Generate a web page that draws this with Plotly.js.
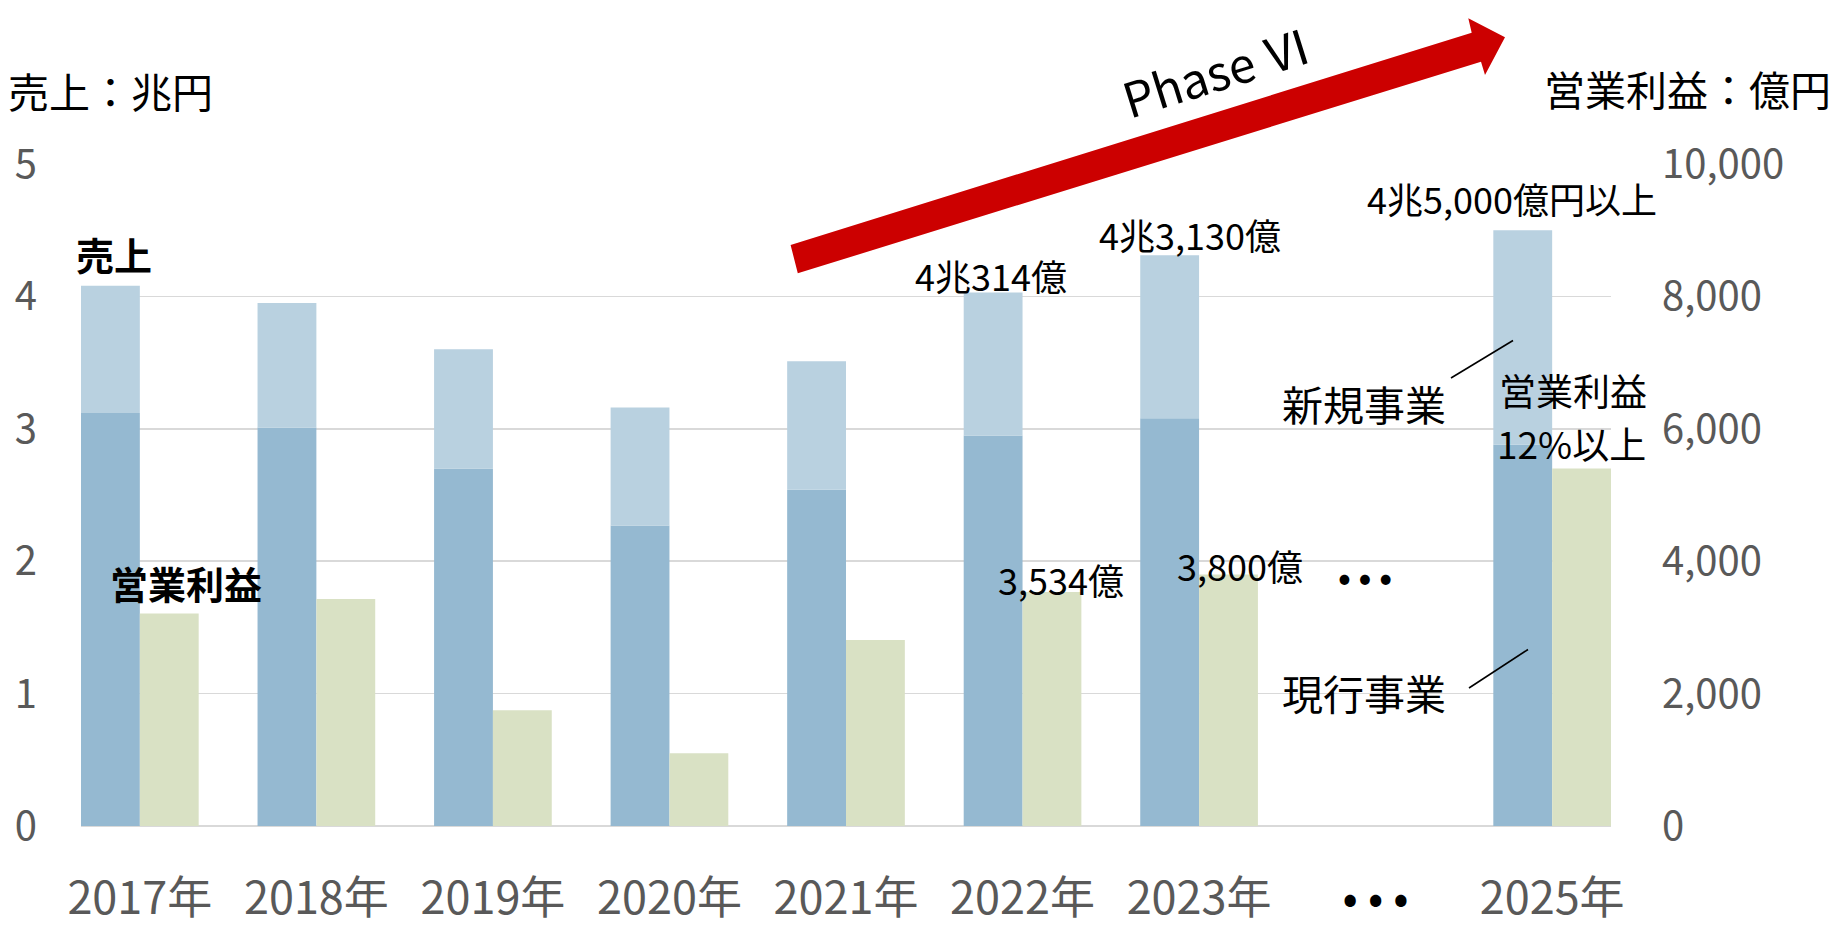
<!DOCTYPE html>
<html>
<head>
<meta charset="utf-8">
<script src="https://cdn.plot.ly/plotly-3.0.1.min.js"></script>
<style>
  html, body { margin: 0; padding: 0; background: #fff; }
  #chart { width: 1835px; height: 930px; }
</style>
</head>
<body>
<div id="chart"></div>
<script>
// ---- data ----
const categories = ['2017年', '2018年', '2019年', '2020年', '2021年', '2022年', '2023年', '• • •', '2025年'];
const currentBiz = [3.12, 3.01, 2.70, 2.27, 2.54, 2.95, 3.08, null, 2.88];   // 現行事業 (兆円)
const newBiz     = [0.96, 0.94, 0.90, 0.89, 0.97, 1.08, 1.23, null, 1.62];   // 新規事業 (兆円)
const opProfit   = [3210, 3430, 1750, 1100, 2810, 3534, 3800, null, 5400];   // 営業利益 (億円)
const salesTickVals = [0, 1, 2, 3, 4, 5];
const profitTickVals = [0, 2000, 4000, 6000, 8000, 10000];
const profitTickText = ['0', '2,000', '4,000', '6,000', '8,000', '10,000'];

// ---- layout geometry ----
const W = 1835, H = 930;
const L = 81, R = 224, T = 164, B = 104;
const PW = W - L - R, PH = H - T - B;
function P(px, py) { return { x: (px - L) / PW, y: (H - B - py) / PH }; }

const FONT = '"Noto Sans CJK JP", "Noto Sans", sans-serif';
const C_DARK = '#95B9D1', C_LIGHT = '#B9D1E0', C_GREEN = '#D9E1C4';

const traces = [
  { type: 'bar', name: '現行事業', x: categories, y: currentBiz, yaxis: 'y',
    width: 0.3333, offset: -0.3333, marker: { color: C_DARK }, hoverinfo: 'skip' },
  { type: 'bar', name: '新規事業', x: categories, y: newBiz, base: currentBiz, yaxis: 'y',
    width: 0.3333, offset: -0.3333, marker: { color: C_LIGHT }, hoverinfo: 'skip' },
  { type: 'bar', name: '営業利益', x: categories, y: opProfit, yaxis: 'y2',
    width: 0.3333, offset: 0, marker: { color: C_GREEN }, hoverinfo: 'skip' }
];

function ann(text, px, py, size, opts) {
  const p = P(px, py);
  return Object.assign({
    text: text, x: p.x, y: p.y, xref: 'paper', yref: 'paper',
    xanchor: 'center', yanchor: 'middle', showarrow: false,
    font: { family: FONT, size: size, color: '#000' }
  }, opts || {});
}

const annotations = [
  ann('売上：兆円', 6, 90, 41, { xanchor: 'left' }),
  ann('営業利益：億円', 1542, 88, 41, { xanchor: 'left' }),
  ann('<b>売上</b>', 114, 253, 38),
  ann('<b>営業利益</b>', 186, 582, 38),
  ann('4兆314億', 991, 275, 36),
  ann('4兆3,130億', 1190, 234, 36),
  ann('4兆5,000億円以上', 1512, 198, 36),
  ann('3,534億', 1061, 579, 36),
  ann('3,800億', 1240, 565, 36),
  ann('新規事業', 1364, 403, 41),
  ann('現行事業', 1364, 692, 41),
  ann('営業利益', 1573, 390, 37),
  ann('12%以上', 1571, 443, 37),
  ann('<b>• • •</b>', 1365, 575, 34),
  ann('Phase Ⅵ', 1216, 70, 48, { textangle: -17.3 })
];

function pathOf(pts) {
  return pts.map((q, i) => { const p = P(q[0], q[1]); return (i ? 'L' : 'M') + p.x + ',' + p.y; }).join(' ') + ' Z';
}
const arrowPts = [[790.6, 245], [1471.7, 32.7], [1468.3, 18.3], [1505, 37.3], [1485, 75], [1481, 61.7], [797.8, 273.3]];
function lineShape(a, b) {
  const p = P(a[0], a[1]), q = P(b[0], b[1]);
  return { type: 'line', xref: 'paper', yref: 'paper', x0: p.x, y0: p.y, x1: q.x, y1: q.y,
           line: { color: '#000', width: 1.6 } };
}
const shapes = [
  { type: 'path', xref: 'paper', yref: 'paper', path: pathOf(arrowPts),
    fillcolor: '#CC0000', line: { width: 0 }, layer: 'above' },
  lineShape([1451, 378], [1513, 340.5]),
  lineShape([1469, 688], [1528, 649.5])
];

const layout = {
  width: W, height: H,
  margin: { l: L, r: R, t: T, b: B, pad: 0 },
  paper_bgcolor: '#fff', plot_bgcolor: '#fff',
  barmode: 'overlay',
  showlegend: false,
  font: { family: FONT, color: '#595959' },
  xaxis: {
    type: 'category', range: [-0.3333, 8.3333], fixedrange: true,
    showgrid: false, showline: false, zeroline: false,
    ticks: 'outside', ticklen: 33, tickcolor: 'rgba(0,0,0,0)',
    tickfont: { family: FONT, size: 45, color: '#595959' },
    tickvals: categories,
    ticktext: categories.map(c => c.indexOf('•') >= 0 ? '<span style="color:#000">' + c + '</span>' : c)
  },
  yaxis: {
    range: [0, 5], tickvals: salesTickVals, fixedrange: true,
    showgrid: true, gridcolor: '#D9D9D9', gridwidth: 1.5,
    zeroline: true, zerolinecolor: '#D9D9D9', zerolinewidth: 2,
    showline: false,
    ticks: 'outside', ticklen: 35, tickcolor: 'rgba(0,0,0,0)',
    tickfont: { family: FONT, size: 40, color: '#595959' }
  },
  yaxis2: {
    range: [0, 10000], overlaying: 'y', side: 'right', fixedrange: true,
    tickvals: profitTickVals, ticktext: profitTickText,
    showgrid: false, zeroline: false, showline: false,
    ticks: 'outside', ticklen: 42, tickcolor: 'rgba(0,0,0,0)',
    tickfont: { family: FONT, size: 40, color: '#595959' }
  },
  annotations: annotations,
  shapes: shapes
};

Plotly.newPlot('chart', traces, layout, { displayModeBar: false, staticPlot: true });
</script>
</body>
</html>
